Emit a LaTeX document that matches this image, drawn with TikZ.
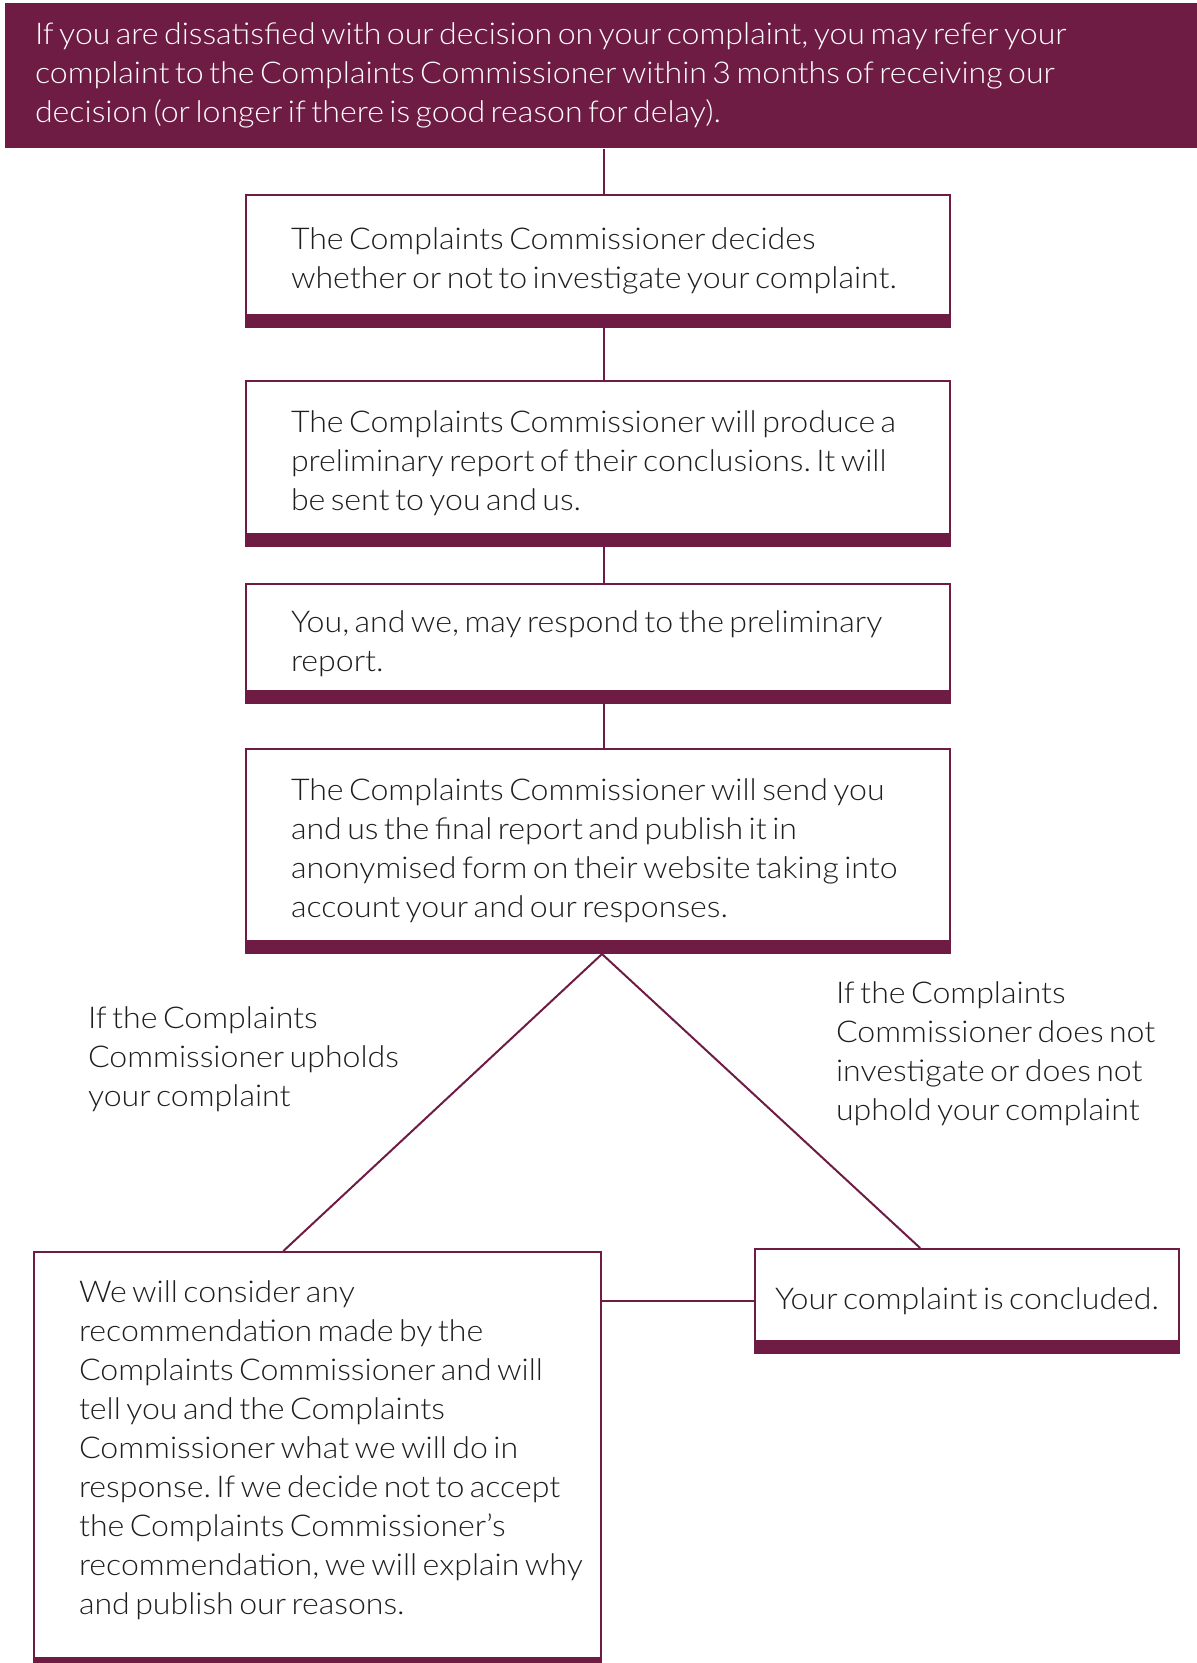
\documentclass[tikz,border=0pt]{standalone}
\usepackage{fontspec}
\setmainfont{Lato}[UprightFont={* Light}, FakeStretch=1.07, WordSpace=0.62]
\usepackage{tikz}
\usetikzlibrary{positioning}
\usetikzlibrary{calc}
\definecolor{plum}{HTML}{6F1C45}
\definecolor{ink}{HTML}{1E1E1E}
\frenchspacing

\begin{document}
\begin{tikzpicture}[x=1pt, y=-1pt, line width=2pt,
		stepbox/.style={draw=plum, fill=white, anchor=north west, inner sep=0pt, text=ink, font=\fontsize{30}{39}\selectfont,
			path picture={\fill[plum] ([yshift=13pt]path picture bounding box.south west) rectangle (path picture bounding box.south east);}},
		lefttext/.style={text width=#1, align=flush left, execute at begin node={\leftskip=45pt\relax}},
		note/.style={anchor=west, align=left, inner sep=0pt, text=ink, font=\fontsize{30}{39}\selectfont},
		link/.style={draw=plum, line width=2pt}]
			\useasboundingbox (0,0) rectangle (1197,1663);
			\node (banner) at (4, 2) [fill=plum, anchor=north west, minimum width=1193, minimum height=145, text width=1133, inner xsep=30pt, inner ysep=0pt, align=flush left, text=white, font=\fontsize{30}{39}\selectfont] {If you are dissatisfied with our decision on your complaint, you may refer your\\complaint to the Complaints Commissioner within 3 months of receiving our\\decision (or longer if there is good reason for delay).};
			\node (b1) at (245, 194) [stepbox, lefttext=704, minimum height=132] {The Complaints Commissioner decides\\whether or not to investigate your complaint.};
			\node (b2) at (245, 380) [stepbox, lefttext=704, minimum height=165] {The Complaints Commissioner will produce a\\preliminary report of their conclusions. It will\\be sent to you and us.};
			\node (b3) at (245, 583) [stepbox, lefttext=704, minimum height=119] {You, and we, may respond to the preliminary\\report.};
			\node (b4) at (245, 748) [stepbox, lefttext=704, minimum height=204] {The Complaints Commissioner will send you\\and us the final report and publish it in\\anonymised form on their website taking into\\account your and our responses.};
			\node (lb) at (33, 1251) [stepbox, lefttext=567, minimum height=418] {We will consider any\\recommendation made by the\\Complaints Commissioner and will\\tell you and the Complaints\\Commissioner what we will do in\\response. If we decide not to accept\\the Complaints Commissioner’s\\recommendation, we will explain why\\and publish our reasons.\\[-12pt]\mbox{}};
			\node (rb) at (754, 1248) [stepbox, minimum width=424, minimum height=104] {Your complaint is concluded.};
			\node (upheld) at (87, 1059) [note] {If the Complaints\\Commissioner upholds\\your complaint};
			\node (notupheld) at (835, 1054) [note] {If the Complaints\\Commissioner does not\\investigate or does not\\uphold your complaint};
			\coordinate (spine) at (604, 0);
			\foreach \u/\v in {banner/b1, b1/b2, b2/b3, b3/b4}
				\draw[link] (\u.south -| spine) -- (\v.north -| spine);
			\coordinate (apex) at ([xshift=4pt]b4.south);
			\draw[link] ($(lb.north west)!0.44!(lb.north east)$) -- (apex) -- ($(rb.north west)!0.39!(rb.north east)$);
			\draw[link] (rb.west -| lb.east) -- (rb.west);
		\end{tikzpicture}
\end{document}
